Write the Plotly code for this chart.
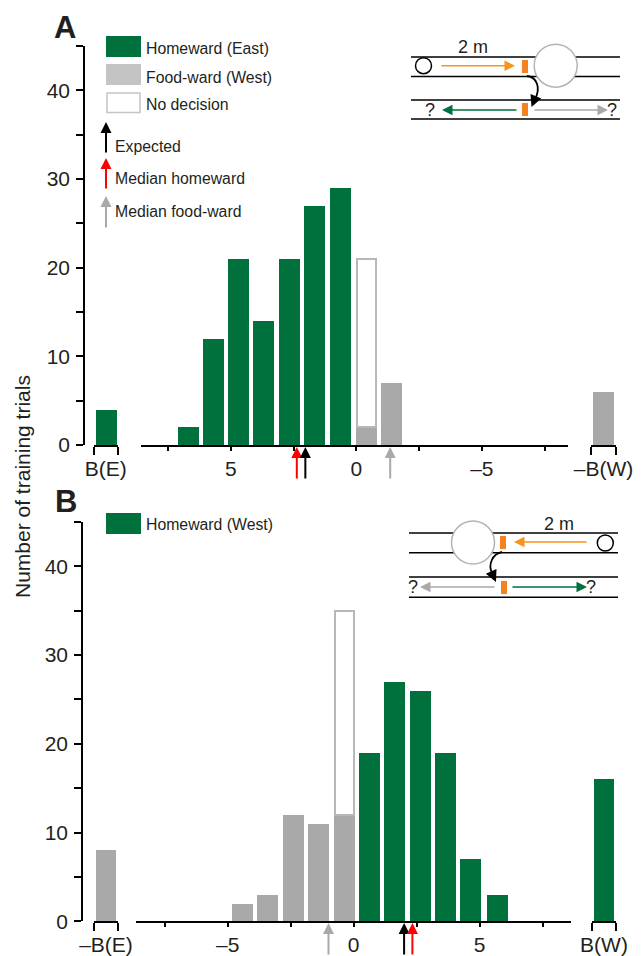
import plotly.graph_objects as go

W, H = 644, 956
GREEN = "#00703c"
GRAY = "#a9a9a9"
LGRAY = "#c4c4c4"
EDGE = "#b8b8b8"
ORANGE = "#f58220"
LORANGE = "#f7941d"
INK = "#231f20"
FONT = "Liberation Sans, Arial, sans-serif"

# Panel A (East)
a_green_x = [6.68, 5.68, 4.68, 3.68, 2.66, 1.66, 0.63]
a_green_y = [2, 12, 21, 14, 21, 27, 29]
a_gray_x = [-0.4, -1.4]
a_gray_y = [2, 7]
a_nodec_x = [-0.4]
a_nodec_y = [19]
a_left_y = [4]
a_right_y = [6]
a_expected, a_med_home, a_med_food = 2.03, 2.37, -1.35

# Panel B (West)
b_gray_x = [-4.42, -3.42, -2.39, -1.4, -0.37]
b_gray_y = [2, 3, 12, 11, 12]
b_nodec_x = [-0.37]
b_nodec_y = [23]
b_green_x = [0.63, 1.62, 2.65, 3.64, 4.65, 5.7]
b_green_y = [19, 27, 26, 19, 7, 3]
b_left_y = [8]
b_right_y = [16]
b_expected, b_med_home, b_med_food = 2.0, 2.33, -1.0

main_ticks = [-7.5, -5, -2.5, 0, 2.5, 5, 7.5]
main_text = ["", "\u20135", "", "0", "", "5", ""]
y_ticks = [0, 5, 10, 15, 20, 25, 30, 35, 40, 45]
y_text = ["0", "", "10", "", "20", "", "30", "", "40", ""]


def X(p):
    return p / W


def Y(p):
    return 1 - p / H


fig = go.Figure()
BW = 0.84


def bars(x, y, color, xa, ya, width=BW, line=None):
    fig.add_trace(go.Bar(x=x, y=y, width=width, marker=dict(color=color, line=line or dict(width=0)),
                         xaxis=xa, yaxis=ya, showlegend=False))


# A
bars(a_green_x, a_green_y, GREEN, "x", "y")
bars(a_gray_x, a_gray_y, GRAY, "x", "y")
bars(a_nodec_x, a_nodec_y, "white", "x", "y", width=0.76, line=dict(color=EDGE, width=2))
bars([0], a_left_y, GREEN, "x2", "y")
bars([0], a_right_y, GRAY, "x3", "y")
# B
bars(b_gray_x, b_gray_y, GRAY, "x4", "y2")
bars(b_nodec_x, b_nodec_y, "white", "x4", "y2", width=0.76, line=dict(color=EDGE, width=2))
bars(b_green_x, b_green_y, GREEN, "x4", "y2")
bars([0], b_left_y, GRAY, "x5", "y2")
bars([0], b_right_y, GREEN, "x6", "y2")


def main_axis(p0, p1, zero, scale, anchor):
    return dict(domain=[X(p0), X(p1)], range=[(p0 - zero) / scale, (p1 - zero) / scale], anchor=anchor,
                tickmode="array", tickvals=main_ticks, ticktext=main_text, ticks="outside", ticklen=4,
                tickwidth=1.5, tickcolor="black", showline=True, linecolor="black", linewidth=1.5,
                showgrid=False, zeroline=False, tickfont=dict(size=21, color=INK, family=FONT),
                ticklabelstandoff=0)


def side_axis(p0, p1, label, anchor):
    return dict(domain=[X(p0), X(p1)], range=[-0.5, 0.5], anchor=anchor, tickmode="array", tickvals=[0],
                ticktext=[label], ticks="", ticklen=0, showline=True, linecolor="black", linewidth=1.5,
                showgrid=False, zeroline=False, tickfont=dict(size=21, color=INK, family=FONT),
                ticklabelstandoff=4,
                minor=dict(tickmode="array", tickvals=[-0.5, 0.5], ticks="outside", ticklen=8, tickwidth=1.5,
                           tickcolor="black", showgrid=False))


def y_axis(top, bottom, xpos):
    return dict(domain=[Y(bottom), Y(top)], range=[0, 45], anchor="free", position=X(xpos), tickmode="array",
                tickvals=y_ticks, ticktext=y_text, ticks="outside", ticklen=7, tickwidth=1.5, tickcolor="black",
                showline=True, linecolor="black", linewidth=1.5, showgrid=False, zeroline=False,
                tickfont=dict(size=21, color=INK, family=FONT), ticklabelstandoff=2)


ann = []
shapes = []


def text(px, py, s, size=14, **kw):
    ann.append(dict(x=X(px), y=Y(py), xref="paper", yref="paper", text=s, showarrow=False,
                    font=dict(size=size, color=INK, family=FONT), xanchor=kw.get("xanchor", "left"),
                    yanchor="middle", textangle=kw.get("angle", 0)))


def rect(x0, y0, x1, y1, fill, line=None, w=0):
    shapes.append(dict(type="rect", xref="paper", yref="paper", x0=X(x0), x1=X(x1), y0=Y(y0), y1=Y(y1),
                       fillcolor=fill, line=dict(color=line or fill, width=w)))


def hline(x0, x1, y, color="black", w=1.5):
    shapes.append(dict(type="line", xref="paper", yref="paper", x0=X(x0), x1=X(x1), y0=Y(y), y1=Y(y),
                       line=dict(color=color, width=w)))


def circle(cx, cy, r, line, w, fill="white"):
    shapes.append(dict(type="circle", xref="paper", yref="paper", x0=X(cx - r), x1=X(cx + r), y0=Y(cy - r),
                       y1=Y(cy + r), fillcolor=fill, line=dict(color=line, width=w)))


def arrow(x0, y0, x1, y1, color, w=1.5, size=1.4):
    ann.append(dict(x=X(x1), y=Y(y1), xref="paper", yref="paper", ax=x0 - x1, ay=y0 - y1, showarrow=True,
                    arrowhead=2, arrowsize=size, arrowwidth=w, arrowcolor=color, text="", standoff=0))


def data_arrow(val, xa, top, bottom, color):
    ann.append(dict(x=val, xref=xa, y=Y(top), yref="paper", ax=0, ay=bottom - top, showarrow=True, arrowhead=2,
                    arrowsize=1.1, arrowwidth=2, arrowcolor=color, text="", standoff=0))


def curve(d):
    shapes.append(dict(type="path", xref="paper", yref="paper", path=d, line=dict(color="black", width=1.8)))


def P(x, y):
    return f"{X(x):.5f},{Y(y):.5f}"


# letters / title
text(65, 27, "<b>A</b>", 31, xanchor="center")
text(66, 502, "<b>B</b>", 31, xanchor="center")
text(22, 487, "Number of training trials", 21, xanchor="center", angle=-90)

# legends
LEG = 15.8
rect(106, 36, 141, 57, GREEN)
rect(106, 64, 141, 85, LGRAY)
rect(107, 93, 140, 112.5, "white", LGRAY, 1.5)
text(143.5, 48, "Homeward (East)", LEG)
text(143.5, 77, "Food-ward (West)", LEG)
text(143.5, 105, "No decision", LEG)
text(113, 146, "Expected", LEG)
text(113, 178, "Median homeward", LEG)
text(113, 212, "Median food-ward", LEG)
arrow(106, 154, 106, 122, "black", 2, 1.1)
arrow(106, 190, 106, 158, "red", 2, 1.1)
arrow(106, 229, 106, 196, GRAY, 2, 1.1)
rect(106, 513, 141, 534, GREEN)
text(143.5, 524, "Homeward (West)", LEG)

# median arrows
data_arrow(a_med_home, "x", 447, 480, "red")
data_arrow(a_expected, "x", 447, 480, "black")
data_arrow(a_med_food, "x", 447, 480, GRAY)
data_arrow(b_expected, "x4", 923, 956, "black")
data_arrow(b_med_home, "x4", 923, 956, "red")
data_arrow(b_med_food, "x4", 923, 956, GRAY)

# schematic A
hline(411, 620, 57)
hline(411, 620, 76.5)
hline(411, 620, 100)
hline(411, 620, 119)
circle(555.7, 65.7, 21.5, "#b3b3b3", 1.5)
circle(423.5, 65.7, 8, "black", 1.5)
arrow(440, 65.7, 515, 65.7, LORANGE, 1.5)
rect(522, 60, 528, 73, ORANGE)
rect(522, 103, 528, 116, ORANGE)
curve(f"M{P(527, 76)} C{P(537, 77)} {P(541, 88)} {P(535, 99)}")
arrow(536, 96, 531.5, 107, "black", 1.8, 1.3)
arrow(518, 110, 442, 110, GREEN, 1.5)
arrow(533, 110, 608, 110, GRAY, 1.5)
text(430, 110, "?", 18, xanchor="center")
text(612, 110, "?", 18, xanchor="center")
text(473, 47, "2 m", 18, xanchor="center")

# schematic B
hline(409, 618, 533)
hline(409, 618, 552.7)
hline(409, 618, 577)
hline(409, 618, 597.3)
circle(473, 542.5, 21.5, "#b3b3b3", 1.5)
circle(605.3, 543, 8, "black", 1.5)
arrow(588, 542, 514, 542, LORANGE, 1.5)
rect(500, 536, 506, 549, ORANGE)
rect(501, 581, 507, 594, ORANGE)
curve(f"M{P(502, 552)} C{P(492, 554)} {P(488, 565)} {P(492, 573)}")
arrow(491, 571, 496, 582, "black", 1.8, 1.3)
arrow(496, 587, 420, 587, GRAY, 1.5)
arrow(511, 587, 587, 587, GREEN, 1.5)
text(413, 587, "?", 18, xanchor="center")
text(591, 587, "?", 18, xanchor="center")
text(559, 524, "2 m", 18, xanchor="center")

fig.update_layout(
    width=W, height=H, margin=dict(l=0, r=0, t=0, b=0, autoexpand=False), barmode="stack", bargap=0,
    plot_bgcolor="white", paper_bgcolor="white", font=dict(family=FONT, color=INK), showlegend=False,
    xaxis=main_axis(141, 568, 356.3, -25.1, "y"),
    xaxis2=side_axis(93.5, 118, "B(E)", "y"),
    xaxis3=side_axis(591, 616, "\u2013B(W)", "y"),
    xaxis4=main_axis(136, 571, 353.7, 25.2, "y2"),
    xaxis5=side_axis(94, 118, "\u2013B(E)", "y2"),
    xaxis6=side_axis(592, 616, "B(W)", "y2"),
    yaxis=y_axis(46, 445, 84),
    yaxis2=y_axis(522, 921.3, 82),
    annotations=ann, shapes=shapes,
)
fig.write_html("out.html", post_script="document.body.style.margin='0';", config={"displayModeBar": False})
